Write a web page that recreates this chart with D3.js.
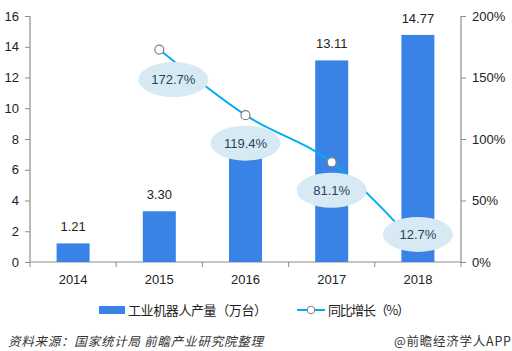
<!DOCTYPE html>
<html>
<head>
<meta charset="utf-8">
<script src="https://cdn.jsdelivr.net/npm/d3@7"></script>
<style>
  body { margin: 0; background: #fff; }
  text { font-family: "Liberation Sans", Arial, "Noto Sans CJK SC", sans-serif; }
  .cn { font-family: "Noto Sans CJK SC", sans-serif; }
</style>
</head>
<body>
<div id="chart"></div>
<script>
// chart data
const years = ["2014", "2015", "2016", "2017", "2018"];
const output = [1.21, 3.30, 7.24, 13.11, 14.77];
const growthYears = ["2015", "2016", "2017", "2018"];
const growth = [172.7, 119.4, 81.1, 12.7];
const leftTicks = [0, 2, 4, 6, 8, 10, 12, 14, 16];
const rightTicks = [0, 50, 100, 150, 200];

const width = 512, height = 351;
const svg = d3.select("#chart").append("svg")
    .attr("width", width)
    .attr("height", height);

const x = d3.scaleBand().domain(years).range([30, 461]);
const yL = d3.scaleLinear().domain([0, 16]).range([262, 16]);
const yR = d3.scaleLinear().domain([0, 200]).range([262, 16]);

const axisColor = "#8c8c8c";

// left axis
const gl = svg.append("g")
    .attr("transform", "translate(30,0)")
    .call(d3.axisLeft(yL).tickValues(leftTicks).tickSize(5).tickPadding(6));
// right axis
const gr = svg.append("g")
    .attr("transform", "translate(461,0)")
    .call(d3.axisRight(yR).tickValues(rightTicks).tickSize(5).tickPadding(6)
        .tickFormat(d => d + "%"));
// bottom axis
const gb = svg.append("g")
    .attr("transform", "translate(0,262)")
    .call(d3.axisBottom(x).tickSize(0).tickPadding(13));
gb.selectAll(".tick").append("line")
    .attr("x1", -x.bandwidth() / 2).attr("x2", -x.bandwidth() / 2)
    .attr("y1", 0).attr("y2", 5);
gb.append("line")
    .attr("x1", 461).attr("x2", 461).attr("y1", 0).attr("y2", 5);

[gl, gr, gb].forEach(g => {
    g.select(".domain").attr("stroke", axisColor).attr("stroke-width", 1.2);
    g.selectAll("line").attr("stroke", axisColor);
    g.selectAll("text").attr("fill", "#222").attr("font-size", 13);
});
gl.select(".domain").attr("d", "M0,16V262");
gr.select(".domain").attr("d", "M0,16V262");
gb.select(".domain").attr("d", "M30,0H461");

// bars
const barW = 33;
svg.selectAll("rect.bar")
    .data(years)
    .enter().append("rect")
    .attr("class", "bar")
    .attr("x", (d) => x(d) + x.bandwidth() / 2 - barW / 2)
    .attr("y", (d, i) => yL(output[i]))
    .attr("width", barW)
    .attr("height", (d, i) => yL(0) - yL(output[i]))
    .attr("fill", "#3a83e6");

// 2016 value sits under the growth bubble in the original, so it is not shown
svg.selectAll("text.val")
    .data(years.filter(d => d !== "2016"))
    .enter().append("text")
    .attr("class", "val")
    .attr("x", d => x(d) + x.bandwidth() / 2)
    .attr("y", d => yL(output[years.indexOf(d)]) - 12)
    .attr("text-anchor", "middle")
    .attr("font-size", 13)
    .attr("fill", "#222")
    .text(d => output[years.indexOf(d)].toFixed(2));

// growth line
const pts = growthYears.map((d, i) => [x(d) + x.bandwidth() / 2, yR(growth[i])]);
svg.append("path")
    .attr("d", d3.line().curve(d3.curveMonotoneX)(pts))
    .attr("fill", "none")
    .attr("stroke", "#00aeef")
    .attr("stroke-width", 2);

svg.selectAll("circle.pt")
    .data(pts.slice(0, 3))
    .enter().append("circle")
    .attr("class", "pt")
    .attr("cx", d => d[0])
    .attr("cy", d => d[1])
    .attr("r", 4.5)
    .attr("fill", "#fff")
    .attr("stroke", "#808080")
    .attr("stroke-width", 1.2);

// bubble labels
const offsets = [[14, 30], [0, 28], [0, 28], [0, -12]];
const lab = svg.selectAll("g.lab")
    .data(pts)
    .enter().append("g")
    .attr("class", "lab")
    .attr("transform", (d, i) => `translate(${d[0] + offsets[i][0]},${d[1] + offsets[i][1]})`);
lab.append("ellipse")
    .attr("rx", 35).attr("ry", 17.5)
    .attr("fill", "#d7eaf3");
lab.append("text")
    .attr("text-anchor", "middle")
    .attr("dy", "0.35em")
    .attr("font-size", 13)
    .attr("fill", "#2c3e5c")
    .text((d, i) => growth[i] + "%");

// legend
svg.append("rect")
    .attr("x", 99).attr("y", 306).attr("width", 26).attr("height", 8)
    .attr("fill", "#3a83e6");
svg.append("text").attr("class", "cn")
    .attr("x", 128).attr("y", 315)
    .attr("font-size", 13).attr("fill", "#222")
    .attr("textLength", 139).attr("lengthAdjust", "spacing")
    .text("工业机器人产量（万台）");
svg.append("line")
    .attr("x1", 297).attr("x2", 325).attr("y1", 310).attr("y2", 310)
    .attr("stroke", "#00aeef").attr("stroke-width", 2);
svg.append("circle")
    .attr("cx", 311).attr("cy", 310).attr("r", 3.8)
    .attr("fill", "#fff").attr("stroke", "#808080");
svg.append("text").attr("class", "cn")
    .attr("x", 328).attr("y", 315)
    .attr("font-size", 13).attr("fill", "#222")
    .attr("textLength", 82).attr("lengthAdjust", "spacing")
    .text("同比增长（%）");

// source
svg.append("text").attr("class", "cn")
    .attr("x", 8).attr("y", 346)
    .attr("font-size", 12.5).attr("font-style", "italic").attr("fill", "#333")
    .attr("textLength", 255).attr("lengthAdjust", "spacing")
    .text("资料来源：国家统计局 前瞻产业研究院整理");
svg.append("text").attr("class", "cn")
    .attr("x", 394).attr("y", 346)
    .attr("font-size", 12.5).attr("fill", "#333")
    .attr("textLength", 117).attr("lengthAdjust", "spacing")
    .text("@前瞻经济学人APP");
</script>
</body>
</html>
